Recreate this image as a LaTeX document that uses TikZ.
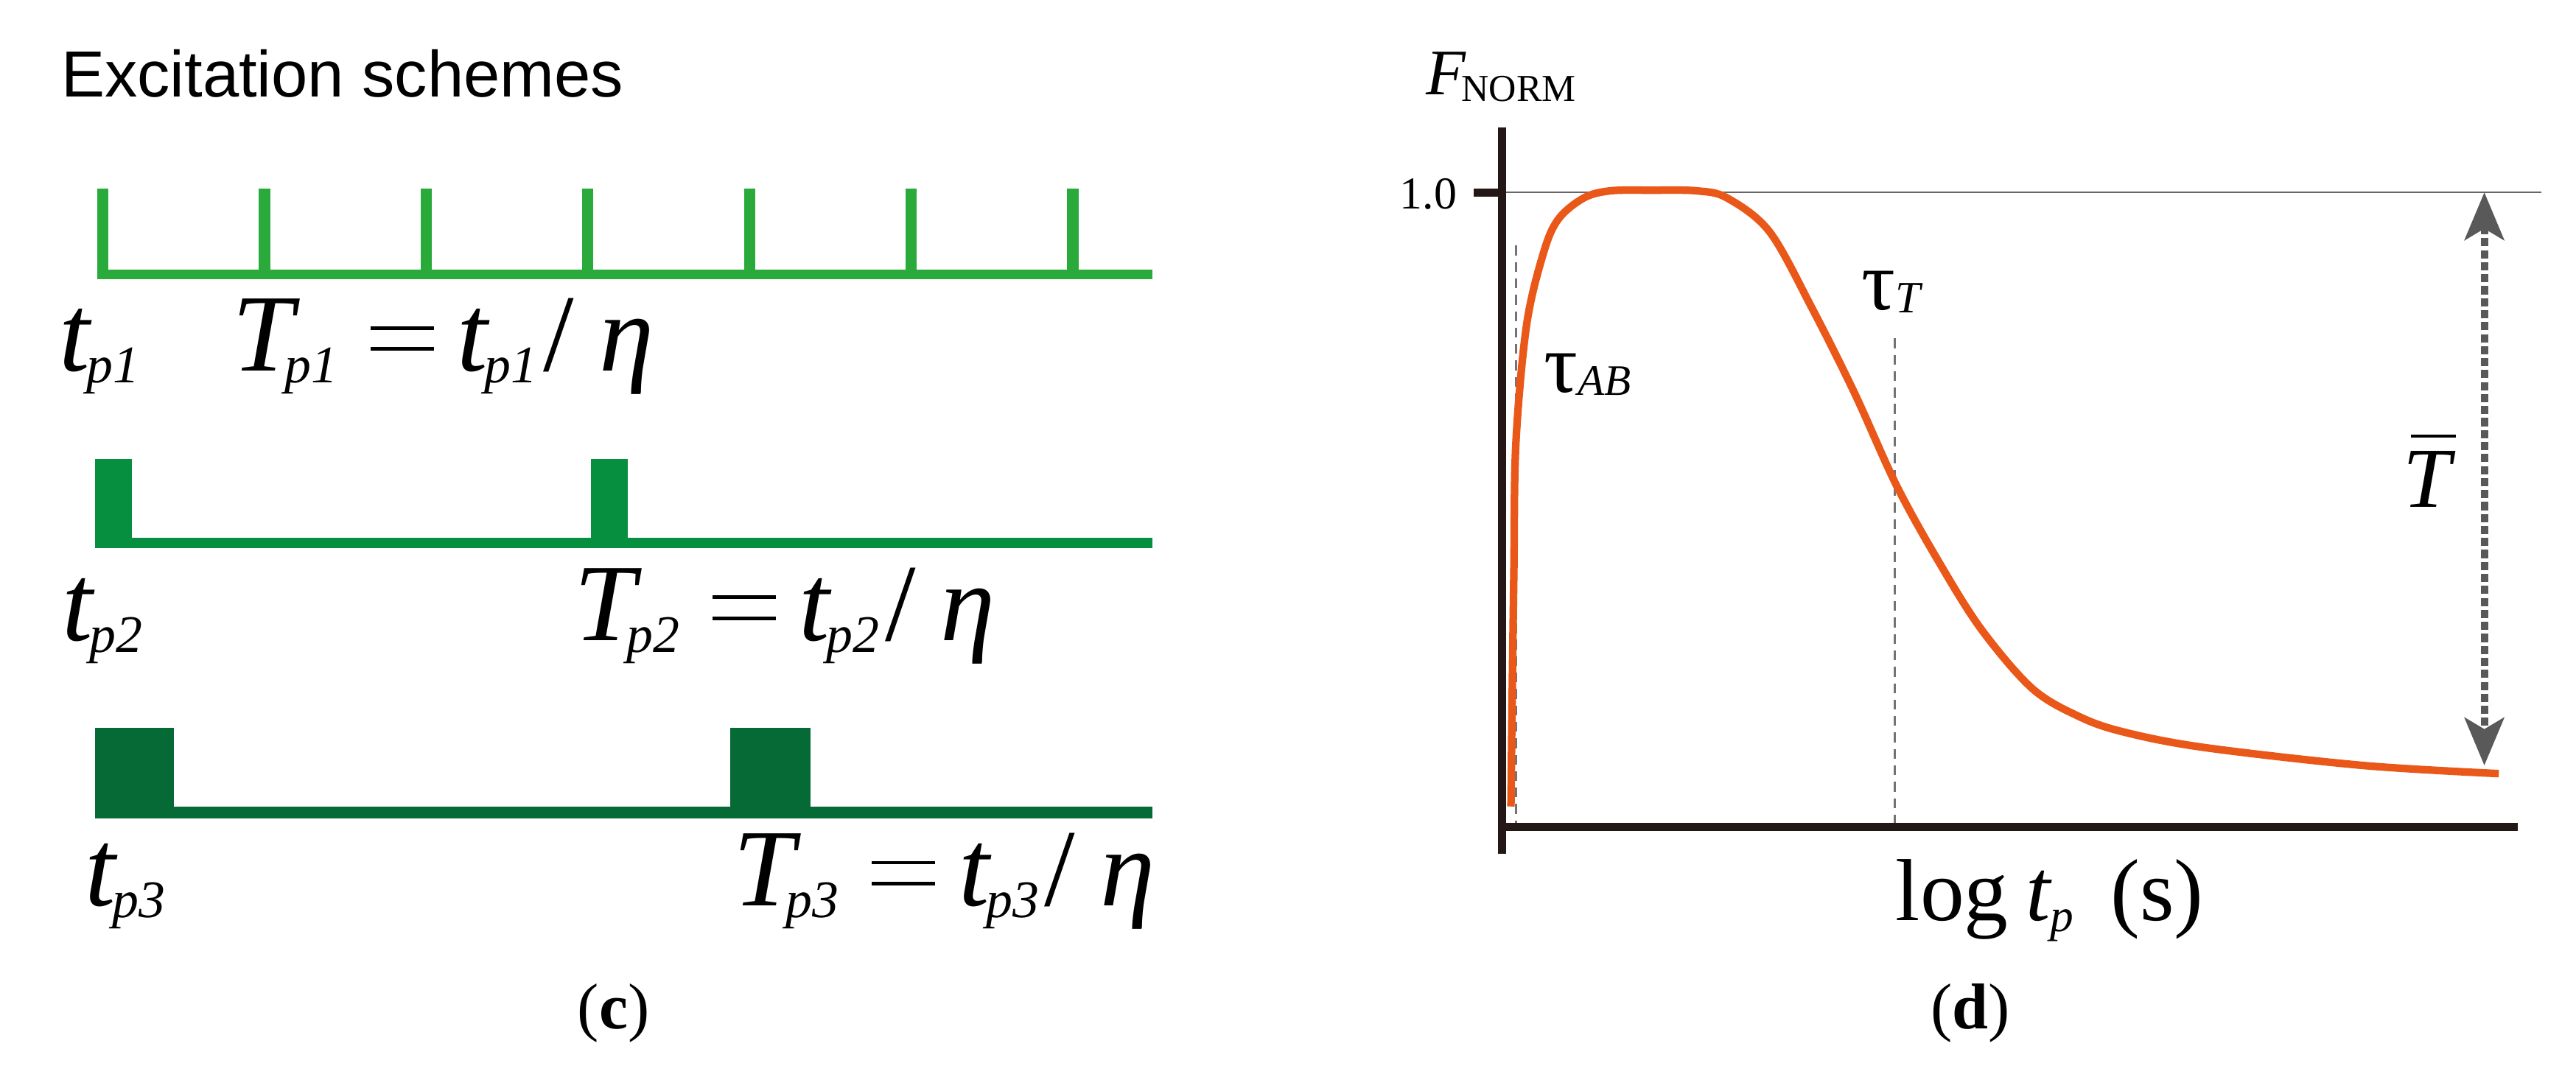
\documentclass[tikz,border=0pt]{standalone}
\usepackage{fontspec}
\setmainfont{Liberation Serif}
\newfontfamily\arialf{Liberation Sans}
\usetikzlibrary{arrows.meta}
\newlength\ov \setlength\ov{0.022296cm}
\newcommand\psub[1]{\raisebox{-0.107em}{\scalebox{0.48}{\itshape p#1}}}
\newcommand\eqsign{\makebox[0.575em][l]{\rule[0.1875em]{0.575em}{0.033em}\hspace{-0.575em}\rule[0.3775em]{0.575em}{0.033em}}}
\newcommand\formula[1]{{\itshape T}\kern-0.08em\psub{#1}\hspace{0.30em}\eqsign\hspace{0.215em}{\itshape t}\kern-0.03em\psub{#1}\kern0.05em/\hspace{0.23em}{\itshape η}}
\newcommand\tlabel[1]{{\itshape t}\kern-0.03em\psub{#1}}
\definecolor{gA}{RGB}{43,170,60}
\definecolor{gB}{RGB}{6,143,62}
\definecolor{gC}{RGB}{6,106,54}
\definecolor{orng}{RGB}{233,88,25}
\definecolor{axc}{RGB}{35,24,21}
\definecolor{arrg}{RGB}{89,89,89}
\tikzset{
  lbl/.style={inner sep=0pt, outer sep=0pt, anchor=base west},
  big/.style={lbl, font=\fontsize{42.5pt}{50pt}\selectfont},
  axis/.style={draw=axc, line width=5\ov},
  guide/.style={draw=black!55, line width=1.2\ov, dash pattern=on 6\ov off 4\ov},
  tarrow/.style={draw=arrg, line width=4.5\ov, dash pattern=on 5\ov off 2.3\ov,
     {Stealth[length=18.4pt, width=15.2pt, inset=4.4pt, fill=arrg]}-{Stealth[length=18.4pt, width=15.2pt, inset=4.4pt, fill=arrg]}},
}
\begin{document}
\begin{tikzpicture}[x=1\ov, y=-1\ov]
\useasboundingbox[fill=white] (0,0) rectangle (1568,664);

% ---------- panel (c) ----------
\node[lbl, font=\fontsize{25.2pt}{30pt}\arialf] (title) at (37.3,59.05) {Excitation schemes};

% row 1
\fill[gA] (59.1,164.2) rectangle (701.5,170.1);
\foreach \c in {62.6,161,259.4,357.8,456.2,554.6,653}
  \fill[gA] (\c-3.4,114.8) rectangle (\c+3.4,167);
\node[big] (tp1) at (36,226) {\tlabel{1}};
\node[big] (Tp1) at (141.4,226) {\formula{1}};

% row 2
\fill[gB] (58,327.5) rectangle (701.5,333.8);
\fill[gB] (58,279.4) rectangle (80.4,333.8);
\fill[gB] (359.9,279.4) rectangle (382.3,333.8);
\node[big] (tp2) at (38,390) {\tlabel{2}};
\node[big] (Tp2) at (349.5,390) {\formula{2}};

% row 3
\fill[gC] (58,491.2) rectangle (701.5,498.3);
\fill[gC] (58,443.3) rectangle (105.8,498.3);
\fill[gC] (444.5,443.3) rectangle (493.2,498.3);
\node[big] (tp3) at (52,551.6) {\tlabel{3}};
\node[big] (Tp3) at (446.5,551.6) {\formula{3}};

\node[lbl, font=\fontsize{25pt}{30pt}\selectfont] (capc) at (351.6,626.4) {(\textbf{c})};

% ---------- panel (d) ----------
\coordinate (yb) at (914.3,520);
\coordinate (yt) at (914.3,77.4);
\coordinate (xl) at (911.8,503.4);
\coordinate (xr) at (1532.5,503.4);
\coordinate (tk) at (897,117.1);
\coordinate (tky) at (916.5,117.1);
\coordinate (gl) at (914,117.1);
\coordinate (gr) at (1547,117.1);

\draw[black!60, line width=1\ov] (gl) -- (gr);
\draw[axis] (yb) -- (yt);
\draw[axis] (xl) -- (xr);
\draw[axis] (tk) -- (tky);

\coordinate (dA1) at (922.8,149.5);
\coordinate (dA2) at (922.8,501);
\coordinate (dT1) at (1153.2,206);
\coordinate (dT2) at (1153.2,501);
\draw[guide] (dA1) -- (dA2);
\draw[guide] (dT1) -- (dT2);

\draw[orng, line width=4.6\ov, line join=round]
  plot[smooth, tension=0.55] coordinates {
  (919.7,491) (920.5,420) (921.5,347) (922.7,270) (929.2,198) (939.5,154)
  (948.5,133.5) (963.9,120.6) (980,116.2) (1005,115.8) (1033,116.2)
  (1051.4,120.6) (1077.2,141.2) (1102.9,187.5) (1128.7,239) (1154.4,295.6)
  (1180.1,342) (1205.9,383) (1236.8,419) (1265,436) (1292,445.5)
  (1341,455) (1438,466) (1521,471)};

\coordinate (aT) at (1512.2,117.1);
\coordinate (aB) at (1512.2,466);
\draw[tarrow] (aT) -- (aB);

\node[lbl, font=\fontsize{25.1pt}{30pt}\selectfont] (Fn) at (868,57.6)
  {{\itshape F}\kern-1.6pt\raisebox{-2.5pt}{\fontsize{14.7pt}{18pt}\selectfont NORM}};
\node[lbl, font=\fontsize{17.6pt}{21pt}\selectfont] (one) at (852,127.1) {1.0};
\node[lbl, font=\fontsize{32.5pt}{38pt}\selectfont] (tauAB) at (940,239)
  {τ\raisebox{-0.03em}{\fontsize{16.8pt}{20pt}\selectfont\itshape AB}};
\node[lbl, font=\fontsize{32.5pt}{38pt}\selectfont] (tauT) at (1133,188.8)
  {τ\raisebox{-0.03em}{\fontsize{17.3pt}{20pt}\selectfont\itshape T}};
\node[lbl, font=\fontsize{33pt}{38pt}\selectfont] (Tbar) at (1463,309)
  {\makebox[0pt][l]{\hspace{2.8pt}\rule[26.9pt]{17.5pt}{1.3pt}}{\itshape T}};
\node[lbl, font=\fontsize{34pt}{40pt}\selectfont] (xlab) at (1154,560.6)
  {log\hspace{0.2em}{\itshape t}\raisebox{-0.12em}{\scalebox{0.53}{\itshape p}}\hspace{0.42em}(s)};
\node[lbl, font=\fontsize{25pt}{30pt}\selectfont] (capd) at (1175.4,626.2) {(\textbf{d})};
\end{tikzpicture}
\end{document}
